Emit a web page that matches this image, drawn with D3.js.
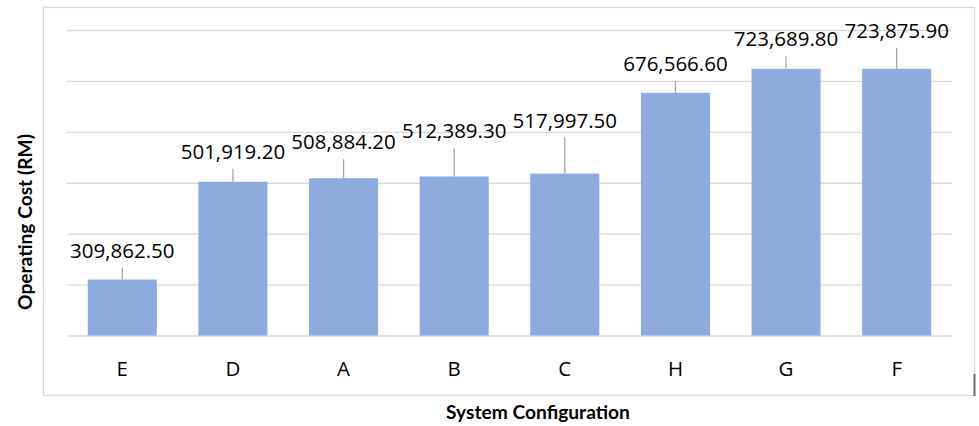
<!DOCTYPE html>
<html>
<head>
<meta charset="utf-8">
<script src="https://cdn.jsdelivr.net/npm/d3@7"></script>
<style>
  html, body { margin: 0; padding: 0; background: #ffffff; }
  svg { display: block; }
</style>
</head>
<body>
<svg id="chart" width="979" height="426"></svg>
<script>
// Operating cost per system configuration, sorted ascending
const categories = ["E", "D", "A", "B", "C", "H", "G", "F"];
const operatingCost = [309862.5, 501919.2, 508884.2, 512389.3, 517997.5, 676566.6, 723689.8, 723875.9];
const yTicks = [200000, 300000, 400000, 500000, 600000, 700000, 800000];

// Label placement: how far each value label sits above its bar (px)
const labelLift = [22, 23, 29, 38, 46, 21.5, 22.5, 31];

const svg = d3.select("#chart");
const plot = { left: 67, right: 952, top: 30, bottom: 335.5 };

// Outer chart frame
svg.append("rect")
  .attr("x", 43.5).attr("y", 7.5)
  .attr("width", 931).attr("height", 388)
  .attr("fill", "none")
  .attr("stroke", "#d9d9d9")
  .attr("stroke-width", 1.3);
svg.append("line")
  .attr("x1", 974.5).attr("x2", 974.5)
  .attr("y1", 374).attr("y2", 396)
  .attr("stroke", "#6e6e6e")
  .attr("stroke-width", 2);

const x = d3.scaleBand()
  .domain(categories)
  .range([plot.left, plot.right])
  .paddingInner(0.376)
  .paddingOuter(0.188);

const y = d3.scaleLinear()
  .domain([yTicks[0], yTicks[yTicks.length - 1]])
  .range([plot.bottom, plot.top]);

// Horizontal gridlines (value labels on the axis are hidden)
const grid = svg.append("g")
  .attr("transform", `translate(${plot.left},0)`)
  .call(d3.axisLeft(y)
    .tickValues(yTicks)
    .tickSize(-(plot.right - plot.left))
    .tickFormat(""));
grid.select(".domain").remove();
grid.selectAll(".tick line")
  .attr("stroke", "#d9d9d9")
  .attr("stroke-width", 1.3);

// Bars
svg.append("g")
  .selectAll("rect")
  .data(categories)
  .join("rect")
  .attr("x", d => x(d))
  .attr("width", x.bandwidth())
  .attr("y", (d, i) => y(operatingCost[i]))
  .attr("height", (d, i) => y(yTicks[0]) - y(operatingCost[i]))
  .attr("fill", "#8faadc");

// Category axis labels
const xAxis = svg.append("g")
  .attr("transform", `translate(0,${plot.bottom})`)
  .call(d3.axisBottom(x).tickSize(0).tickPadding(0));
xAxis.select(".domain").remove();
xAxis.selectAll(".tick text")
  .attr("dy", null)
  .attr("y", 40)
  .attr("fill", "#000")
  .style("font-family", "'Open Sans', sans-serif")
  .style("font-size", "20.5px");

// Value labels with leader lines
const fmt = d3.format(",.2f");
const labels = svg.append("g");
categories.forEach((c, i) => {
  const cx = x(c) + x.bandwidth() / 2;
  const top = y(operatingCost[i]);
  const baseline = top - labelLift[i];
  labels.append("line")
    .attr("x1", cx).attr("x2", cx)
    .attr("y1", baseline + 10).attr("y2", top)
    .attr("stroke", "#a6a6a6")
    .attr("stroke-width", 1.3);
  labels.append("text")
    .attr("x", cx)
    .attr("y", baseline)
    .attr("text-anchor", "middle")
    .attr("fill", "#000")
    .style("font-family", "'Open Sans', sans-serif")
    .style("font-size", "20.5px")
    .text(fmt(operatingCost[i]));
});

// Axis titles
svg.append("text")
  .attr("x", 538).attr("y", 419)
  .attr("text-anchor", "middle")
  .attr("fill", "#000")
  .style("font-family", "Lato, sans-serif")
  .style("font-weight", "bold")
  .style("font-size", "19.2px")
  .text("System Configuration");

svg.append("text")
  .attr("transform", "translate(32,222) rotate(-90)")
  .attr("text-anchor", "middle")
  .attr("fill", "#000")
  .style("font-family", "Lato, sans-serif")
  .style("font-weight", "bold")
  .style("font-size", "19.2px")
  .text("Operating Cost (RM)");
</script>
</body>
</html>
